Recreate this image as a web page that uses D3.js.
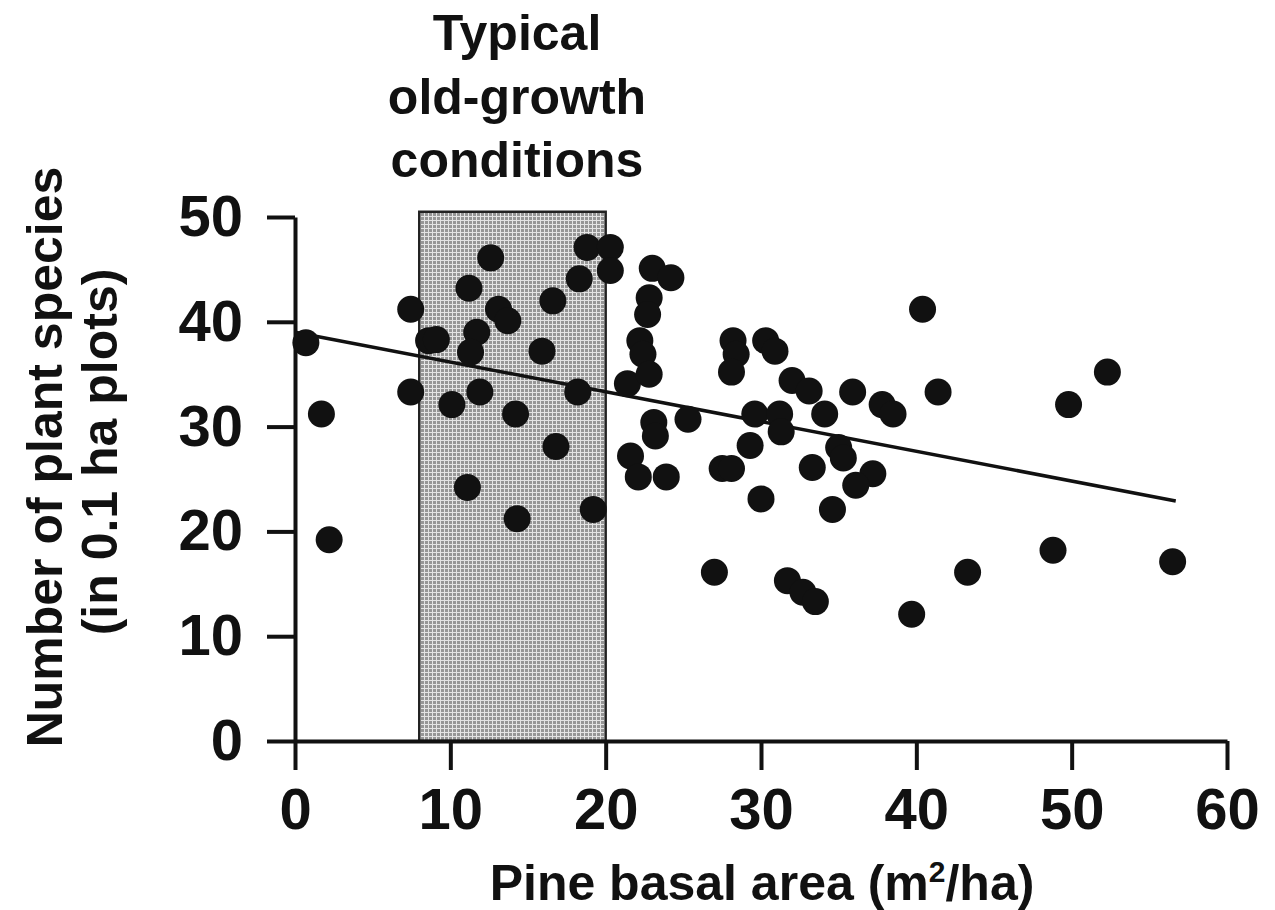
<!DOCTYPE html>
<html>
<head>
  <meta charset="utf-8">
  <title>Plant species vs pine basal area</title>
  <script src="https://cdn.jsdelivr.net/npm/d3@7"></script>
  <style>
    body { margin: 0; background: #fff; }
    text { font-family: "Liberation Sans", Arial, Helvetica, sans-serif; font-weight: bold; fill: #111; }
  </style>
</head>
<body>
<div id="container"></div>

<script>
    // plots: pine basal area (m2/ha) and number of species
    var basalArea = [0.7, 1.7, 2.2, 7.45, 7.45, 8.6, 9.1, 10.1, 11.1, 11.2, 11.7, 11.3, 11.9, 12.6, 13.1, 13.7,
                     14.2, 14.3, 15.9, 16.6, 16.8, 18.2, 18.3, 18.8, 19.2, 20.3, 20.3, 21.4, 23.0, 24.2, 22.8, 22.7,
                     22.2, 22.4, 22.8, 23.1, 23.2, 25.3, 21.6, 22.1, 23.9, 28.2, 28.4, 28.1, 30.3, 30.9, 32.0, 33.1,
                     35.9, 37.8, 38.5, 40.4, 41.4, 29.6, 31.2, 31.3, 34.1, 29.3, 27.5, 28.1, 35.0, 35.3, 33.3, 30.0,
                     37.2, 36.1, 34.6, 27.0, 31.7, 32.7, 33.5, 39.7, 52.3, 49.8, 43.3, 48.8, 56.5];
    var speciesCount = [38.0, 31.2, 19.2, 41.2, 33.3, 38.2, 38.3, 32.1, 24.2, 43.2, 39.0, 37.1, 33.3, 46.1, 41.2, 40.1,
                        31.2, 21.2, 37.2, 42.0, 28.1, 33.3, 44.1, 47.1, 22.1, 47.1, 44.9, 34.1, 45.1, 44.2, 42.3, 40.7,
                        38.2, 36.9, 35.0, 30.4, 29.1, 30.7, 27.2, 25.2, 25.2, 38.2, 36.9, 35.2, 38.2, 37.2, 34.4, 33.4,
                        33.3, 32.1, 31.2, 41.2, 33.3, 31.2, 31.2, 29.5, 31.2, 28.2, 26.0, 26.0, 28.0, 27.0, 26.1, 23.1,
                        25.5, 24.4, 22.1, 16.1, 15.3, 14.2, 13.3, 12.1, 35.2, 32.1, 16.1, 18.2, 17.1];

    // fitted line end points
    var fitX = [0, 56.7];
    var fitY = [39.0, 22.9];

    // shaded band for old-growth conditions
    var bandX = [8, 20];
    var bandTop = 50.5;
    var bandLabel = ["Typical", "old-growth", "conditions"];

    var xTicks = [0, 10, 20, 30, 40, 50, 60];
    var yTicks = [0, 10, 20, 30, 40, 50];

    var width = 1275, height = 910;

    var svg = d3.select("#container").append("svg")
        .attr("width", width).attr("height", height);

    var x = d3.scaleLinear().domain([0, 60]).range([295, 1227]);
    var y = d3.scaleLinear().domain([0, 50]).range([741, 217]);

    // stipple pattern for the band
    var pat = svg.append("defs").append("pattern")
        .attr("id", "grid").attr("width", 4).attr("height", 4)
        .attr("patternUnits", "userSpaceOnUse");
    pat.append("rect").attr("width", 4).attr("height", 4).attr("fill", "#969696");
    pat.append("rect").attr("width", 1).attr("height", 4).attr("fill", "#e4e4e4");
    pat.append("rect").attr("width", 4).attr("height", 1).attr("fill", "#e4e4e4");

    svg.append("rect")
        .attr("x", x(bandX[0])).attr("y", y(bandTop))
        .attr("width", x(bandX[1]) - x(bandX[0]))
        .attr("height", y(0) - y(bandTop))
        .attr("fill", "url(#grid)")
        .attr("stroke", "#222").attr("stroke-width", 2.5);

    var label = svg.append("text")
        .attr("text-anchor", "middle")
        .style("font-size", "50px");
    bandLabel.forEach(function(t, i){
        label.append("tspan").attr("x", 517).attr("y", 50 + i*63.5).text(t);
    });

    // axes
    var xAxis = svg.append("g").attr("transform", "translate(0," + y(0) + ")")
        .call(d3.axisBottom(x).tickValues(xTicks).tickSize(29).tickSizeOuter(0).tickPadding(18));
    var yAxis = svg.append("g").attr("transform", "translate(" + x(0) + ",0)")
        .call(d3.axisLeft(y).tickValues(yTicks).tickSize(28).tickSizeOuter(0).tickPadding(24));

    [xAxis, yAxis].forEach(function(a){
        a.selectAll("path, line").attr("stroke", "#111").attr("stroke-width", 4);
        a.selectAll("text").style("font-size", "58px").attr("fill", "#111");
    });

    // fitted line
    svg.append("line")
        .attr("x1", x(fitX[0])).attr("y1", y(fitY[0]))
        .attr("x2", x(fitX[1])).attr("y2", y(fitY[1]))
        .attr("stroke", "#111").attr("stroke-width", 3.5);

    // points
    svg.append("g").selectAll("circle")
        .data(basalArea)
        .enter().append("circle")
        .attr("cx", function(d){ return x(d); })
        .attr("cy", function(d, i){ return y(speciesCount[i]); })
        .attr("r", 13.5)
        .attr("fill", "#111");

    // axis titles
    var xt = svg.append("text")
        .attr("x", 762).attr("y", 900)
        .attr("text-anchor", "middle")
        .style("font-size", "50px");
    xt.append("tspan").text("Pine basal area (m");
    xt.append("tspan").attr("dy", -18).style("font-size", "30px").text("2");
    xt.append("tspan").attr("dy", 18).text("/ha)");

    svg.append("text")
        .attr("transform", "translate(62,457) rotate(-90)")
        .attr("text-anchor", "middle")
        .style("font-size", "50px")
        .text("Number of plant species");
    svg.append("text")
        .attr("transform", "translate(117,452) rotate(-90)")
        .attr("text-anchor", "middle")
        .style("font-size", "50px")
        .text("(in 0.1 ha plots)");
</script>
</body>
</html>
